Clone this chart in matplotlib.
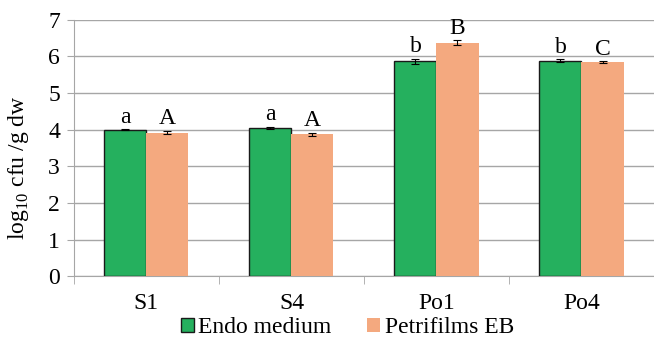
import numpy as np
import matplotlib.pyplot as plt

categories = ["S1", "S4", "Po1", "Po4"]
endo = [4.00, 4.05, 5.87, 5.89]
endo_err = [0.02, 0.03, 0.07, 0.04]
petri = [3.92, 3.88, 6.38, 5.84]
petri_err = [0.05, 0.04, 0.06, 0.03]
endo_letters = ["a", "a", "b", "b"]
petri_letters = ["A", "A", "B", "C"]

plt.rcParams['font.family'] = ['Liberation Serif', 'DejaVu Serif']
plt.rcParams['mathtext.fontset'] = 'custom'
plt.rcParams['mathtext.rm'] = 'Liberation Serif'

fig = plt.figure(figsize=(6.54, 3.43), dpi=100)
ax = fig.add_axes([0.113, 0.195, 0.887, 0.747])

x = np.arange(len(categories))
w = 0.29
green = '#25b05e'
orange = '#f4a97f'
ekw = dict(ecolor='black', elinewidth=0.8, capsize=3, capthick=0.8)

ax.bar(x - w / 2, endo, w, color=green, edgecolor='#1a1a1a', linewidth=1.0,
       yerr=endo_err, error_kw=ekw, label='Endo medium', zorder=3)
ax.bar(x + w / 2, petri, w, color=orange, edgecolor='none',
       yerr=petri_err, error_kw=ekw, label='Petrifilms EB', zorder=3)

for i in range(len(categories)):
    ax.text(x[i] - w / 2, endo[i] + endo_err[i] + 0.04, endo_letters[i],
            ha='center', va='bottom', fontsize=17)
    ax.text(x[i] + w / 2, petri[i] + petri_err[i] + 0.04, petri_letters[i],
            ha='center', va='bottom', fontsize=17)

ax.set_xlim(-0.5, len(categories) - 0.5)
ax.set_ylim(0, 7)
ax.set_yticks(range(8))
ax.yaxis.grid(True, color='#a6a6a6', linewidth=1.0, zorder=0)
ax.set_axisbelow(True)

ax.set_xticks(x)
ax.set_xticklabels(categories, fontsize=17)
ax.set_xticks(np.arange(-0.5, len(categories), 1.0), minor=True)
ax.tick_params(axis='x', which='major', length=0, pad=12)
ax.tick_params(axis='x', which='minor', length=6, color='#a6a6a6')
ax.tick_params(axis='y', length=5, color='#a6a6a6', labelsize=17, pad=5)

for s in ['top', 'right']:
    ax.spines[s].set_visible(False)
ax.spines['left'].set_color('#a6a6a6')
ax.spines['bottom'].set_color('#a6a6a6')

ax.set_ylabel(r'log$_{10}$ cfu /g dw', fontsize=17)
ax.yaxis.set_label_coords(-0.074, 0.425)

fig.legend(loc='center', bbox_to_anchor=(0.531, 0.045), ncol=2, frameon=False,
           prop={'family': 'Liberation Serif', 'size': 17},
           handlelength=0.55, handleheight=0.55, handletextpad=0.2,
           columnspacing=1.5)

fig.savefig('out.png')
